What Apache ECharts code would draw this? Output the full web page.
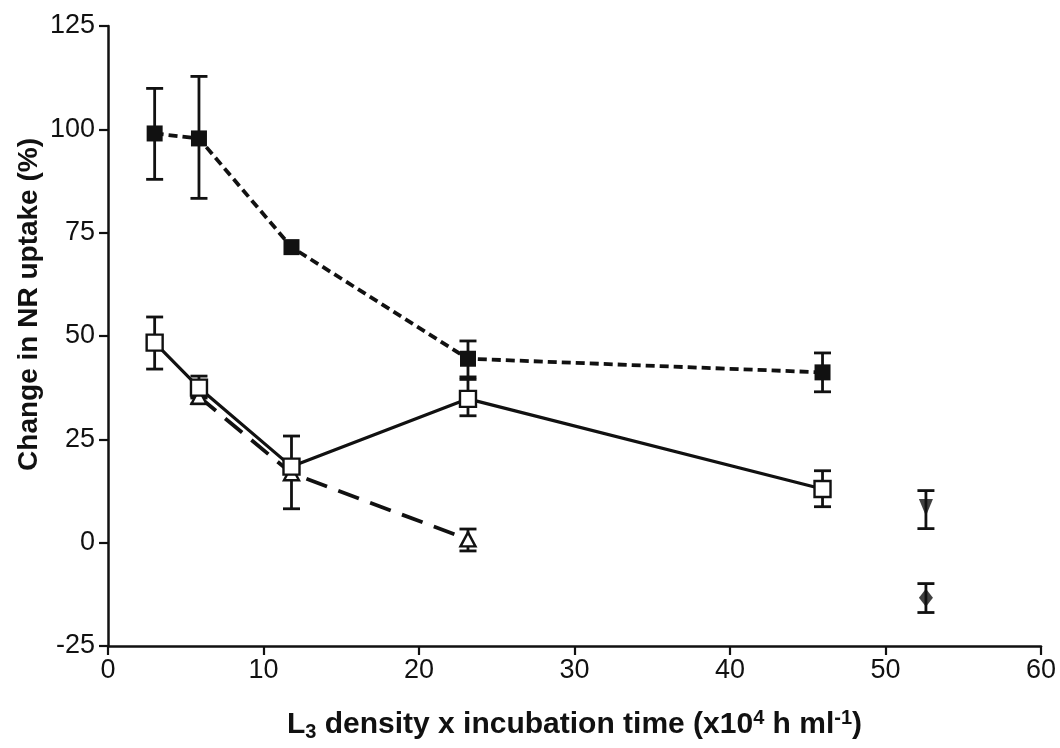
<!DOCTYPE html>
<html>
<head>
<meta charset="utf-8">
<script src="https://cdn.jsdelivr.net/npm/echarts@6/dist/echarts.min.js"></script>
<style>
html,body{margin:0;padding:0;background:#fff;}
#chart{width:1060px;height:748px;}
</style>
</head>
<body>
<div id="chart"></div>
<script>
// x positions (x10^4 h ml^-1)
const xVals = [3, 5.85, 11.8, 23.15, 45.95];

// Filled squares (short-dashed line)
const filledY  = [99, 97.8, 71.5, 44.5, 41.2];
const filledLo = [87.9, 83.3, null, 39.5, 36.5];
const filledHi = [109.9, 112.8, null, 48.8, 45.9];

// Open squares (solid line)
const openY  = [48.4, 37.5, 18.4, 34.8, 13.0];
const openLo = [42.0, 35.0, 8.2, 30.7, 8.7];
const openHi = [54.6, 40.3, 25.8, 40.1, 17.4];

// Open triangles (long-dashed line)
const triX  = [5.85, 11.8, 23.15];
const triY  = [35.3, 16.8, 0.8];
const triLo = [33.6, null, -2.0];
const triHi = [35.3, null, 3.3];

// Single points at x = 52.6
const invTri = {x: 52.6, y: 8.5, lo: 3.4, hi: 12.6};
const diamond = {x: 52.6, y: -13.3, lo: -16.9, hi: -9.9};

const xTicks = {min: 0, max: 60, interval: 10};
const yTicks = {min: -25, max: 125, interval: 25};

const INK = '#111';

function errData(xs, lo, hi) {
  const out = [];
  xs.forEach((x, i) => {
    if (lo[i] != null && hi[i] != null) out.push([x, lo[i], hi[i]]);
  });
  return out;
}
const allErr = []
  .concat(errData(xVals, filledLo, filledHi))
  .concat(errData(xVals, openLo, openHi))
  .concat(errData(triX, triLo, triHi))
  .concat([[invTri.x, invTri.lo, invTri.hi], [diamond.x, diamond.lo, diamond.hi]]);

function renderErr(params, api) {
  const x = api.value(0);
  const p1 = api.coord([x, api.value(1)]);
  const p2 = api.coord([x, api.value(2)]);
  const w = 8.5;
  const st = {stroke: INK, lineWidth: 2.8};
  return {type: 'group', children: [
    {type: 'line', shape: {x1: p1[0], y1: p1[1], x2: p2[0], y2: p2[1]}, style: st},
    {type: 'line', shape: {x1: p1[0] - w, y1: p1[1], x2: p1[0] + w, y2: p1[1]}, style: st},
    {type: 'line', shape: {x1: p2[0] - w, y1: p2[1], x2: p2[0] + w, y2: p2[1]}, style: st}
  ]};
}

const chart = echarts.init(document.getElementById('chart'), null, {renderer: 'canvas'});
const labelFont = {color: INK, fontFamily: 'Liberation Sans', fontSize: 27};

chart.setOption({
  animation: false,
  backgroundColor: '#fff',
  grid: {left: 108, right: 19, top: 26, bottom: 102, containLabel: false},
  xAxis: {
    type: 'value', min: xTicks.min, max: xTicks.max, interval: xTicks.interval,
    axisLine: {show: true, onZero: false, lineStyle: {color: INK, width: 2.5}},
    axisTick: {show: true, inside: false, length: 9, lineStyle: {color: INK, width: 2.2}},
    axisLabel: Object.assign({margin: 11}, labelFont),
    splitLine: {show: false},
    name: 'L{sub|3} density x incubation time (x10{sup|4} h ml{sup|-1})',
    nameLocation: 'middle', nameGap: 62,
    nameTextStyle: {
      color: INK, fontFamily: 'Liberation Sans', fontWeight: 'bold', fontSize: 30,
      rich: {
        sub: {fontSize: 20, fontWeight: 'bold', fontFamily: 'Liberation Sans', color: INK, padding: [14, 0, 0, 0]},
        sup: {fontSize: 20, fontWeight: 'bold', fontFamily: 'Liberation Sans', color: INK, padding: [0, 0, 14, 0]}
      }
    }
  },
  yAxis: {
    type: 'value', min: yTicks.min, max: yTicks.max, interval: yTicks.interval,
    axisLine: {show: true, onZero: false, lineStyle: {color: INK, width: 2.5}},
    axisTick: {show: true, inside: false, length: 9, lineStyle: {color: INK, width: 2.2}},
    axisLabel: Object.assign({margin: 13}, labelFont),
    splitLine: {show: false}
  },
  graphic: [{
    type: 'text', left: 15, top: 138, rotation: Math.PI / 2,
    style: {text: 'Change in NR uptake (%)', fill: INK, font: 'bold 28px "Liberation Sans"'}
  }],
  series: [
    {
      type: 'custom', renderItem: renderErr, data: allErr, z: 2,
      encode: {x: 0, y: [1, 2]}, silent: true
    },
    {
      type: 'line', data: xVals.map((x, i) => [x, filledY[i]]), z: 3,
      lineStyle: {color: INK, width: 3.8, type: [9, 5]},
      symbol: 'rect', symbolSize: 16,
      itemStyle: {color: INK, borderColor: INK, borderWidth: 0}
    },
    {
      type: 'line', data: triX.map((x, i) => [x, triY[i]]), z: 4,
      lineStyle: {color: INK, width: 3.8, type: [22, 12]},
      symbol: 'triangle', symbolSize: [15, 14],
      itemStyle: {color: '#fff', borderColor: INK, borderWidth: 2.4}
    },
    {
      type: 'line', data: xVals.map((x, i) => [x, openY[i]]), z: 5,
      lineStyle: {color: INK, width: 3.2},
      symbol: 'rect', symbolSize: 16,
      itemStyle: {color: '#fff', borderColor: INK, borderWidth: 2.4}
    },
    {
      type: 'scatter', data: [[invTri.x, invTri.y]], z: 6,
      symbol: 'triangle', symbolRotate: 180, symbolSize: [14, 17],
      itemStyle: {color: INK}
    },
    {
      type: 'scatter', data: [[diamond.x, diamond.y]], z: 6,
      symbol: 'diamond', symbolSize: [14, 18],
      itemStyle: {color: INK}
    }
  ]
});
</script>
</body>
</html>
